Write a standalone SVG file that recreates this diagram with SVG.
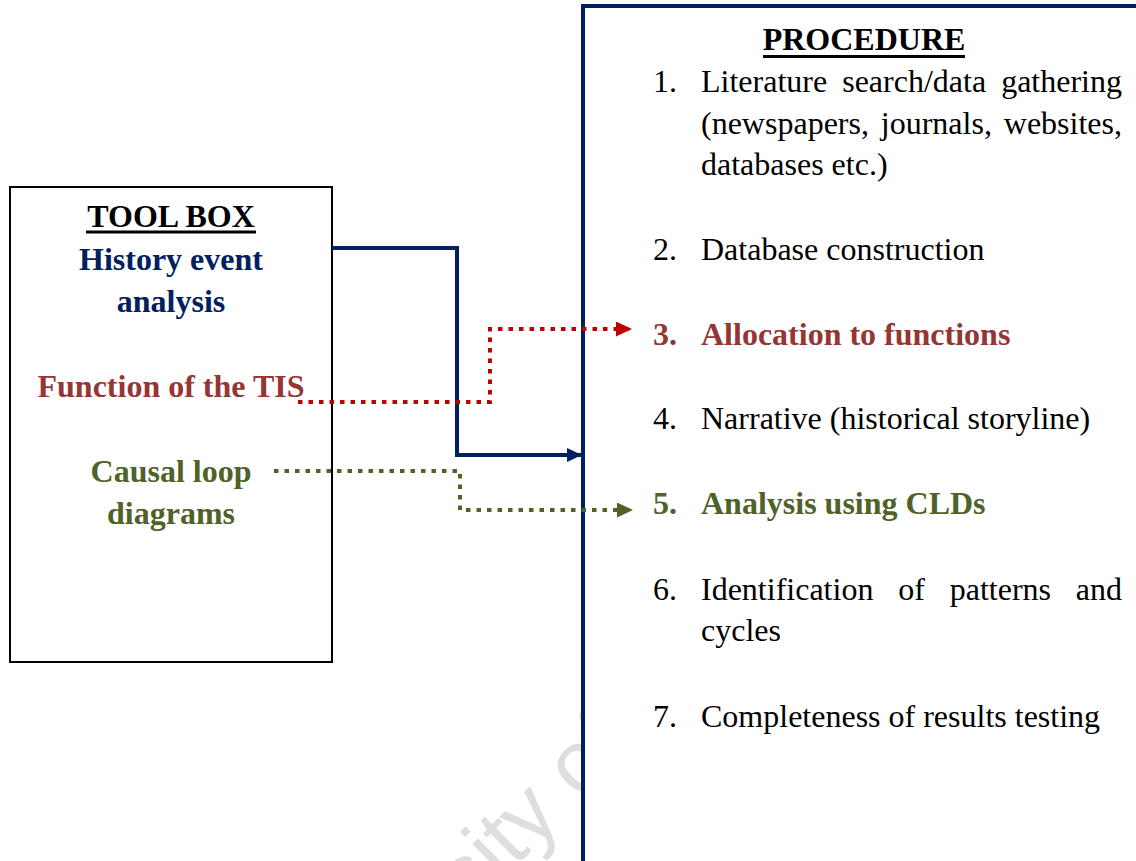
<svg xmlns="http://www.w3.org/2000/svg" width="1136" height="861" viewBox="0 0 1136 861">
<style>
text{font-family:"Liberation Serif","Times New Roman",serif;font-size:32px;fill:#000}
.b{font-weight:bold}
.navy{fill:#002060}
.red{fill:#943634}
.green{fill:#4F6228}
.c{text-anchor:middle}
.e{text-anchor:end}
.wm{font-family:"Liberation Sans",Arial,sans-serif;font-size:88px;fill:#dedede}
.ul{stroke:#000;stroke-width:3}
.conn{fill:none;stroke-width:4}
.dot{stroke-dasharray:4.5 6}
</style>
<defs>
<marker id="aN" markerUnits="userSpaceOnUse" markerWidth="15" markerHeight="14" viewBox="0 0 15 14" refX="15" refY="7" orient="auto"><path d="M0,0 L15,7 L0,14 Z" fill="#002060"/></marker>
<marker id="aR" markerUnits="userSpaceOnUse" markerWidth="16" markerHeight="15" viewBox="0 0 16 15" refX="16" refY="7.5" orient="auto"><path d="M0,0 L16,7.5 L0,15 Z" fill="#C00000"/></marker>
<marker id="aG" markerUnits="userSpaceOnUse" markerWidth="16" markerHeight="15" viewBox="0 0 16 15" refX="16" refY="7.5" orient="auto"><path d="M0,0 L16,7.5 L0,15 Z" fill="#4F6228"/></marker>
</defs>
<rect width="1136" height="861" fill="#fff"/>
<text class="wm" transform="translate(290,1092) rotate(-45)">University of Cape Town</text>

<g id="procedure">
<rect x="583" y="6" width="600" height="900" fill="#fff" stroke="#002060" stroke-width="4"/>
<text class="b c" x="864" y="50">PROCEDURE</text>
<line class="ul" x1="763" y1="56.5" x2="965" y2="56.5"/>
<text x="653" y="92">1.</text>
<text x="701" y="92">Literature</text>
<text x="842.2" y="92">search/data</text>
<text class="e" x="1122" y="92">gathering</text>
<text x="701" y="134">(newspapers,</text>
<text x="880.8" y="134">journals,</text>
<text class="e" x="1122" y="134">websites,</text>
<text x="701" y="175">databases etc.)</text>
<text x="653" y="260">2.</text>
<text x="701" y="260">Database construction</text>
<text class="b red" x="653" y="345">3.</text>
<text class="b red" x="701" y="345">Allocation to functions</text>
<text x="653" y="429">4.</text>
<text x="701" y="429">Narrative (historical storyline)</text>
<text class="b green" x="653" y="514">5.</text>
<text class="b green" x="701" y="514">Analysis using CLDs</text>
<text x="653" y="600">6.</text>
<text x="701" y="600">Identification</text>
<text x="898.2" y="600">of</text>
<text x="949.7" y="600">patterns</text>
<text class="e" x="1122" y="600">and</text>
<text x="701" y="641">cycles</text>
<text x="653" y="727">7.</text>
<text x="701" y="727">Completeness of results testing</text>
</g>

<g id="toolbox">
<rect x="10" y="187" width="322" height="475" fill="#fff" stroke="#000" stroke-width="2"/>
<text class="b c" x="171" y="227">TOOL BOX</text>
<line class="ul" x1="86" y1="232" x2="256" y2="232"/>
<text class="b navy c" x="171" y="270">History event</text>
<text class="b navy c" x="171" y="312">analysis</text>
<text class="b red c" x="171" y="397">Function of the TIS</text>
<text class="b green c" x="171" y="482">Causal loop</text>
<text class="b green c" x="171" y="524">diagrams</text>
</g>

<g id="connectors">
<path class="conn" d="M332,248 H457 V455 H582" stroke="#002060" marker-end="url(#aN)"/>
<path class="conn dot" d="M298,402 H490 V329 H632" stroke="#C00000" marker-end="url(#aR)"/>
<path class="conn dot" d="M274,471 H460 V510 H633" stroke="#4F6228" marker-end="url(#aG)"/>
</g>
</svg>
